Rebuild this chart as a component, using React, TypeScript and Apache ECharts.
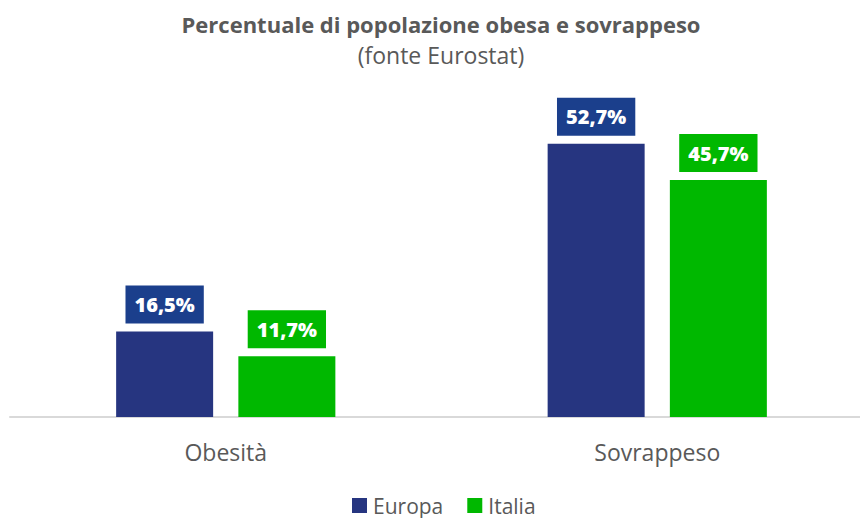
import React, { useEffect, useRef } from "react";
import * as echarts from "echarts";

const categories = ["Obesità", "Sovrappeso"];
const europa = [16.5, 52.7];
const italia = [11.7, 45.7];

const FONT = "Open Sans";
const GREY = "#595959";

export default function App() {
  const ref = useRef<HTMLDivElement>(null);
  useEffect(() => {
    if (!ref.current) return;
    const chart = echarts.init(ref.current, null, { renderer: "svg" });
    const label = (bg: string) => ({
      show: true,
      position: "top",
      distance: 8,
      formatter: (p: any) => p.value.toFixed(1).replace(".", ",") + "%",
      color: "#ffffff",
      fontFamily: FONT,
      fontWeight: 800,
      fontSize: 20,
      backgroundColor: bg,
      padding: [9, 9],
    });
    chart.setOption({
      animation: false,
      backgroundColor: "#ffffff",
      title: [
        {
          text: "Percentuale di popolazione obesa e sovrappeso",
          left: "center",
          top: 13,
          padding: 0,
          textStyle: { fontFamily: FONT, fontWeight: "bold", fontSize: 22, color: GREY },
        },
        {
          text: "(fonte Eurostat)",
          left: "center",
          top: 43,
          padding: 0,
          textStyle: { fontFamily: FONT, fontWeight: "normal", fontSize: 23, color: GREY },
        },
      ],
      legend: {
        top: 495,
        left: 352,
        padding: 0,
        icon: "rect",
        itemWidth: 15,
        itemHeight: 15,
        itemGap: 24,
        itemStyle: { borderWidth: 0 },
        textStyle: { fontFamily: FONT, fontSize: 21, color: GREY, padding: [0, 0, 0, 1] },
        data: ["Europa", "Italia"],
      },
      grid: { left: 10, right: 9, top: 80, bottom: 101, containLabel: false },
      xAxis: {
        type: "category",
        data: categories,
        axisLine: { lineStyle: { color: "#d9d9d9", width: 2 } },
        axisTick: { show: false },
        axisLabel: { fontFamily: FONT, fontSize: 23, color: GREY, margin: 23 },
      },
      yAxis: {
        type: "value",
        min: 0,
        max: 65,
        show: false,
        splitLine: { show: false },
      },
      series: [
        {
          name: "Europa",
          type: "bar",
          data: europa,
          barWidth: 97,
          barGap: "26%",
          itemStyle: { color: "#263580" },
          label: label("#1b3f8c"),
        },
        {
          name: "Italia",
          type: "bar",
          data: italia,
          barWidth: 97,
          itemStyle: { color: "#00b800" },
          label: label("#00b800"),
        },
      ],
    });
    return () => chart.dispose();
  }, []);
  return (
    <div
      style={{
        position: "fixed",
        top: 0,
        left: 0,
        width: 860,
        height: 518,
        overflow: "hidden",
        background: "#ffffff",
      }}
    >
      <div ref={ref} style={{ width: 882, height: 518 }} />
    </div>
  );
}
